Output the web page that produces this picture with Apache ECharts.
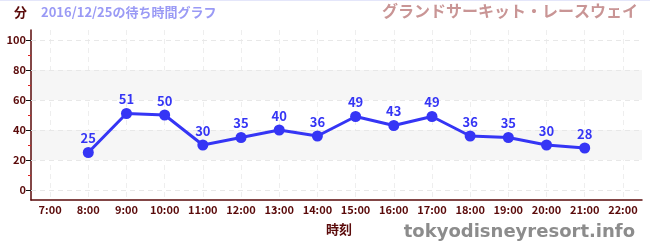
<!DOCTYPE html>
<html>
<head>
<meta charset="utf-8">
<script src="https://cdn.jsdelivr.net/npm/echarts@6/dist/echarts.min.js"></script>
<style>
  html, body { margin: 0; padding: 0; background: #fff; }
  #chart { width: 650px; height: 250px; border-top: 1px solid #e4e6fa; box-sizing: border-box; }
</style>
</head>
<body>
<div id="chart"></div>
<script>
const hours = ['7:00', '8:00', '9:00', '10:00', '11:00', '12:00', '13:00', '14:00',
    '15:00', '16:00', '17:00', '18:00', '19:00', '20:00', '21:00', '22:00']
const waits = [null, 25, 51, 50, 30, 35, 40, 36, 49, 43, 49, 36, 35, 30, 28, null]
const majorTicks = [0, 20, 40, 60, 80, 100]
const minorTicks = [10, 30, 50, 70, 90]
const bands = [[20, 40], [60, 80]]

const FONT = '"Noto Sans CJK JP", "Noto Sans", sans-serif'
const axisColor = '#5a0a0a'
const lineColor = '#3535f5'

const myChart = echarts.init(document.getElementById('chart'), null, {renderer: 'canvas'})

myChart.setOption({
    animation: false,
    textStyle: {fontFamily: FONT},
    grid: {left: 31, right: 8, top: 29, bottom: 50, containLabel: false},
    graphic: [
        {type: 'text', left: 14, top: 5, style: {text: '分', fill: axisColor, font: 'bold 13px ' + FONT}},
        {type: 'text', left: 41, top: 5, style: {text: '2016/12/25の待ち時間グラフ', fill: '#9a9af5', font: 'bold 13px ' + FONT}},
        {type: 'text', right: 12, top: 2, style: {text: 'グランドサーキット・レースウェイ', fill: '#c99595', font: 'bold 16px ' + FONT}},
        {type: 'text', left: 326, top: 222, style: {text: '時刻', fill: axisColor, font: 'bold 13px ' + FONT}},
        {type: 'text', right: 15, top: 222, style: {text: 'tokyodisneyresort.info', fill: '#8c8c8c', font: 'bold 18px "DejaVu Sans", sans-serif'}}
    ],
    xAxis: {
        type: 'category',
        data: hours,
        boundaryGap: true,
        axisLine: {onZero: false, lineStyle: {color: axisColor, width: 1.5}},
        axisTick: {alignWithLabel: true, length: 4, inside: true, lineStyle: {color: '#555'}},
        axisLabel: {color: axisColor, fontSize: 11, fontWeight: 'bold', margin: 4, interval: 0},
        splitLine: {show: true, alignWithLabel: true, lineStyle: {color: '#eeeeee', type: [5, 4]}}
    },
    yAxis: [
        {
            type: 'value',
            min: -6.67,
            max: 106.67,
            axisLine: {show: true, lineStyle: {color: axisColor, width: 1.5}},
            axisTick: {show: true, length: 5, customValues: majorTicks, lineStyle: {color: '#111'}},
            axisLabel: {color: axisColor, fontSize: 11, fontWeight: 'bold', margin: 5, customValues: majorTicks},
            splitLine: {show: false}
        },
        {
            type: 'value',
            position: 'left',
            min: -6.67,
            max: 106.67,
            axisLine: {show: false},
            axisTick: {show: true, length: 3, customValues: minorTicks, lineStyle: {color: '#dd2222'}},
            axisLabel: {show: false, customValues: minorTicks},
            splitLine: {show: false}
        }
    ],
    series: [
        {
            // background bands and horizontal dashed grid lines
            type: 'line',
            data: [],
            silent: true,
            z: 0,
            markArea: {
                silent: true,
                z: 0,
                itemStyle: {color: '#f6f6f6'},
                data: bands.map(b => [{yAxis: b[0]}, {yAxis: b[1]}])
            },
            markLine: {
                silent: true,
                z: 1,
                symbol: 'none',
                label: {show: false},
                lineStyle: {color: '#e8e8e8', type: [5, 4], width: 1},
                data: majorTicks.map(v => ({yAxis: v}))
            }
        },
        {
            type: 'line',
            data: waits,
            symbol: 'circle',
            symbolSize: 11,
            connectNulls: false,
            lineStyle: {color: lineColor, width: 3},
            itemStyle: {color: lineColor},
            label: {
                show: true,
                position: 'top',
                distance: 2,
                color: lineColor,
                fontSize: 13,
                fontWeight: 'bold'
            },
            z: 3
        }
    ]
})
window.addEventListener('resize', myChart.resize)
</script>
</body>
</html>
